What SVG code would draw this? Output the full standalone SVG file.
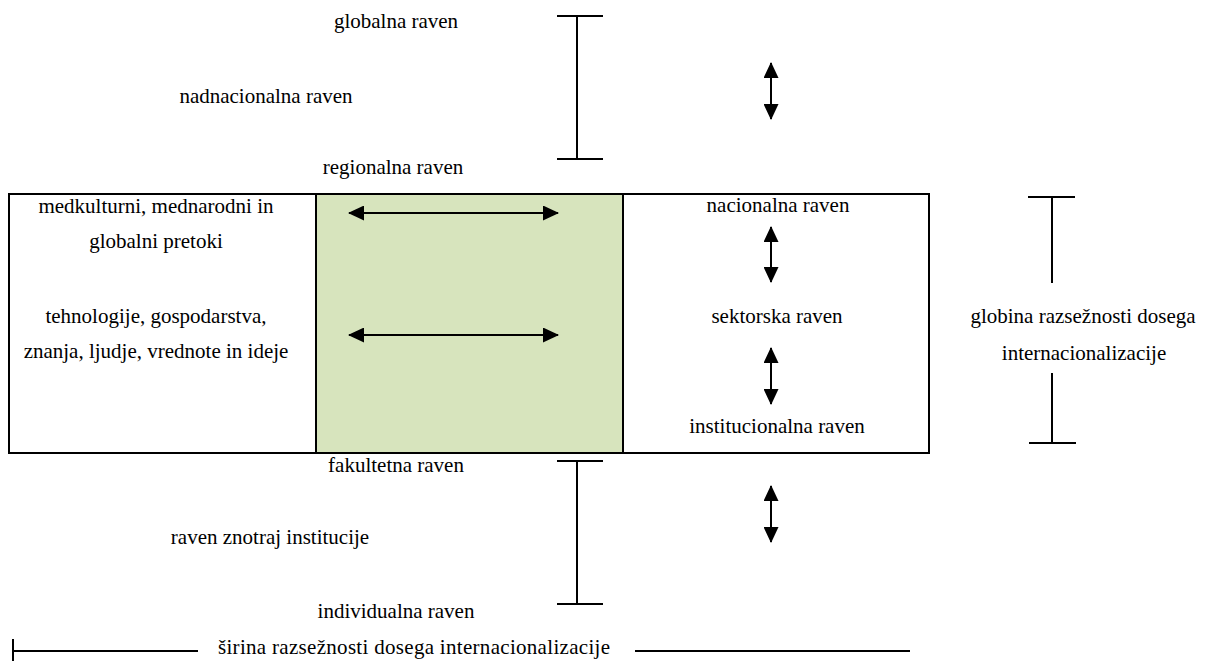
<svg xmlns="http://www.w3.org/2000/svg" width="1205" height="661" viewBox="0 0 1205 661">
<style>
text{font-family:'Liberation Serif','Times New Roman',serif;font-size:21px;fill:#000;text-anchor:middle}
.ln{stroke:#000;stroke-width:2;fill:none}
.ar{stroke:#000;stroke-width:2;fill:none;marker-start:url(#ah);marker-end:url(#ah)}
</style>
<defs>
<marker id="ah" markerUnits="userSpaceOnUse" markerWidth="16" markerHeight="15" refX="15" refY="7.5" orient="auto-start-reverse">
<path d="M0,0 L16,7.5 L0,15 z" fill="#000"/>
</marker>
</defs>
<g id="box-left"><rect x="9" y="194" width="307" height="259" fill="#fff" stroke="#000" stroke-width="2"/>
<text x="156" y="213">medkulturni, mednarodni in</text>
<text x="156" y="248">globalni pretoki</text>
<text x="156" y="323">tehnologije, gospodarstva,</text>
<text x="156" y="358">znanja, ljudje, vrednote in ideje</text></g>
<g id="box-middle"><rect x="316" y="194" width="307" height="259" fill="#d7e4bd" stroke="#000" stroke-width="2"/></g>
<g id="box-right"><rect x="623" y="194" width="306" height="259" fill="#fff" stroke="#000" stroke-width="2"/>
<text x="778" y="212">nacionalna raven</text>
<text x="777" y="323">sektorska raven</text>
<text x="777" y="433">institucionalna raven</text></g>
<g id="labels-top">
<text x="396" y="28">globalna raven</text>
<text x="266" y="103">nadnacionalna raven</text>
<text x="393" y="174">regionalna raven</text></g>
<g id="labels-bottom">
<text x="396" y="472">fakultetna raven</text>
<text x="270" y="544">raven znotraj institucije</text>
<text x="396" y="618">individualna raven</text></g>
<g id="label-depth">
<text x="1083" y="323">globina razsežnosti dosega</text>
<text x="1084" y="360">internacionalizacije</text></g>
<g id="label-width"><text x="414" y="654" textLength="392">širina razsežnosti dosega internacionalizacije</text></g>
<g id="connectors">
<path class="ln" d="M557,16 H603 M577,16 V159 M557,159 H603"/>
<path class="ln" d="M557,461 H603 M577,461 V604 M557,604 H603"/>
<path class="ln" d="M1028,197 H1075 M1052,197 V283 M1052,373 V443 M1029,443 H1076"/>
<path class="ln" d="M13,639 V661 M13,651 H198 M635,651 H910"/>
<line class="ar" x1="771" y1="63" x2="771" y2="119"/>
<line class="ar" x1="771" y1="227" x2="771" y2="282"/>
<line class="ar" x1="771" y1="348" x2="771" y2="404"/>
<line class="ar" x1="771" y1="486" x2="771" y2="542"/>
<line class="ar" x1="349" y1="213" x2="558" y2="213"/>
<line class="ar" x1="349" y1="335" x2="558" y2="335"/>
</g>
</svg>
